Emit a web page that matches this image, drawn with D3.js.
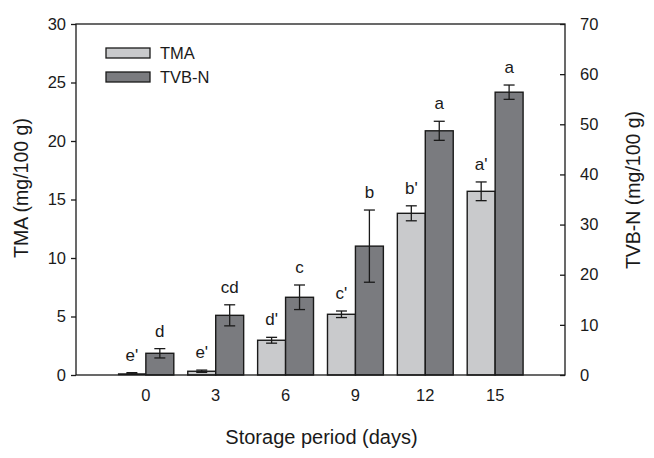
<!DOCTYPE html>
<html>
<head>
<meta charset="utf-8">
<script src="https://cdn.jsdelivr.net/npm/d3@7"></script>
<style>
  html, body { margin: 0; padding: 0; background: #fff; }
  svg { display: block; font-family: "Liberation Sans", Arial, sans-serif; }
</style>
</head>
<body>
<svg id="chart" width="654" height="458"></svg>
<script>
const categories = ["0", "3", "6", "9", "12", "15"];
const tmaValues = [0.15, 0.32, 2.97, 5.19, 13.82, 15.7];
const tmaErrors = [0.05, 0.1, 0.25, 0.28, 0.64, 0.8];
const tmaLetters = ["e'", "e'", "d'", "c'", "b'", "a'"];
const tvbValues = [4.33, 11.9, 15.5, 25.7, 48.7, 56.4];
const tvbErrors = [0.93, 2.1, 2.45, 7.2, 1.9, 1.43];
const tvbLetters = ["d", "cd", "c", "b", "a", "a"];
const leftTicks = [0, 5, 10, 15, 20, 25, 30];
const rightTicks = [0, 10, 20, 30, 40, 50, 60, 70];
const seriesNames = ["TMA", "TVB-N"];

const svg = d3.select("#chart");
const L = 76, R = 565, T = 24, B = 375;
const ink = "#1a1a1a";
const colors = ["#c9cacc", "#7a7b7f"];

const x = d3.scaleBand().domain(categories).range([L, R]).paddingInner(0.2).paddingOuter(0.6);
const xs = d3.scaleBand().domain(seriesNames).range([0, x.bandwidth()]);
const yL = d3.scaleLinear().domain([0, 30]).range([B, T]);
const yR = d3.scaleLinear().domain([0, 70]).range([B, T]);

function drawSeries(vals, errs, letters, scale, idx) {
  const g = svg.append("g");
  categories.forEach((c, i) => {
    const x0 = x(c) + xs(seriesNames[idx]);
    const w = xs.bandwidth();
    const v = vals[i];
    const h = B - scale(v);
    if (h < 3) {
      g.append("rect").attr("x", x0).attr("y", scale(v)).attr("width", w).attr("height", Math.max(h, 2))
        .attr("fill", ink);
    } else {
      g.append("rect").attr("x", x0).attr("y", scale(v)).attr("width", w).attr("height", h)
        .attr("fill", colors[idx]).attr("stroke", ink).attr("stroke-width", 1.4);
    }
    const cx = x0 + w / 2;
    const yt = scale(v + errs[i]), yb = scale(v - errs[i]);
    const cap = 5.5;
    const eg = g.append("g").attr("stroke", ink).attr("stroke-width", 1.3);
    eg.append("line").attr("x1", cx).attr("x2", cx).attr("y1", yt).attr("y2", yb);
    eg.append("line").attr("x1", cx - cap).attr("x2", cx + cap).attr("y1", yt).attr("y2", yt);
    eg.append("line").attr("x1", cx - cap).attr("x2", cx + cap).attr("y1", yb).attr("y2", yb);
    g.append("text").attr("x", cx).attr("y", yt - 12)
      .attr("text-anchor", "middle").attr("font-size", 17).attr("fill", ink)
      .text(letters[i]);
  });
}
drawSeries(tmaValues, tmaErrors, tmaLetters, yL, 0);
drawSeries(tvbValues, tvbErrors, tvbLetters, yR, 1);

// frame
svg.append("rect").attr("x", L).attr("y", T).attr("width", R - L).attr("height", B - T)
  .attr("fill", "none").attr("stroke", ink).attr("stroke-width", 1.3);

// left axis
const la = svg.append("g").attr("transform", `translate(${L},0)`)
  .call(d3.axisLeft(yL).tickValues(leftTicks).tickSize(5).tickPadding(5).tickFormat(d3.format("d")));
la.select(".domain").remove();
la.selectAll("line").attr("stroke", ink).attr("stroke-width", 1.3);
la.selectAll("text").attr("font-size", 16.5).attr("fill", ink).attr("font-family", "Liberation Sans, Arial, sans-serif");

// right axis (ticks inward)
const ra = svg.append("g").attr("transform", `translate(${R},0)`)
  .call(d3.axisRight(yR).tickValues(rightTicks).tickSizeInner(-5).tickSizeOuter(0).tickPadding(15).tickFormat(d3.format("d")));
ra.select(".domain").remove();
ra.selectAll("line").attr("stroke", ink).attr("stroke-width", 1.3);
ra.selectAll("text").attr("font-size", 16.5).attr("fill", ink).attr("font-family", "Liberation Sans, Arial, sans-serif");

// bottom axis labels
const ba = svg.append("g").attr("transform", `translate(0,${B})`)
  .call(d3.axisBottom(x).tickSize(0).tickPadding(14));
ba.select(".domain").remove();
ba.selectAll("text").attr("font-size", 16.5).attr("fill", ink).attr("font-family", "Liberation Sans, Arial, sans-serif");

// axis titles
svg.append("text").attr("x", (L + R) / 2 + 1).attr("y", 444).attr("text-anchor", "middle")
  .attr("font-size", 20).attr("fill", ink).text("Storage period (days)");
svg.append("text").attr("transform", `translate(28,188) rotate(-90)`).attr("text-anchor", "middle")
  .attr("font-size", 19.5).attr("fill", ink).text("TMA (mg/100 g)");
svg.append("text").attr("transform", `translate(640,190) rotate(-90)`).attr("text-anchor", "middle")
  .attr("font-size", 19.5).attr("fill", ink).text("TVB-N (mg/100 g)");

// legend
const lg = svg.append("g");
seriesNames.forEach((n, i) => {
  const yy = 48 + i * 24;
  lg.append("rect").attr("x", 106).attr("y", yy).attr("width", 44).attr("height", 10)
    .attr("fill", colors[i]).attr("stroke", ink).attr("stroke-width", 1.3);
  lg.append("text").attr("x", 160).attr("y", yy + 10.5).attr("font-size", 16.5).attr("fill", ink).text(n);
});
</script>
</body>
</html>
